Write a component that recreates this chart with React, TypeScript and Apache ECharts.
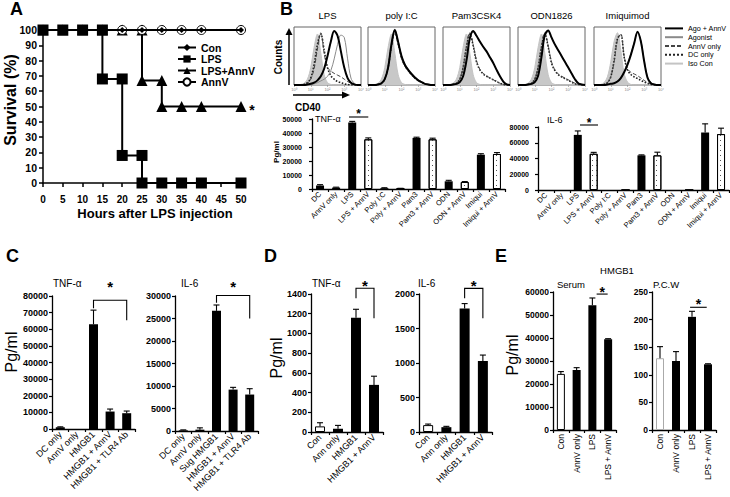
import React, { useEffect, useRef } from 'react';
import * as echarts from 'echarts';

const FONT = 'Liberation Sans, Arial, sans-serif';

// ---------- Panel A: survival ----------
const hourTicks = [0, 5, 10, 15, 20, 25, 30, 35, 40, 45, 50];
const survCon = [[0, 100], [5, 100], [10, 100], [15, 100], [20, 100], [25, 100], [30, 100], [35, 100], [40, 100], [50, 100]];
const survLPS = [[0, 100], [5, 100], [10, 100], [15, 100], [15, 68], [20, 68], [20, 18], [25, 18], [25, 0], [30, 0], [35, 0], [40, 0], [50, 0]];
const survLPSAnnV = [[0, 100], [5, 100], [10, 100], [15, 100], [20, 100], [25, 100], [25, 67], [30, 67], [30, 50], [35, 50], [40, 50], [50, 50]];
const survAnnV = [[0, 100], [5, 100], [10, 100], [15, 100], [20, 100], [25, 100], [30, 100], [35, 100], [40, 100], [50, 100]];

// ---------- Panel B: CD40 histograms (log decades 0..4) ----------
const histX = [0, 0.2, 0.4, 0.6, 0.8, 1.0, 1.2, 1.4, 1.6, 1.8, 2.0, 2.2, 2.4, 2.6, 2.8, 3.0, 3.2, 3.4, 3.6, 3.8, 4.0];
const histTitles = ['LPS', 'poly I:C', 'Pam3CSK4', 'ODN1826', 'Imiquimod'];
const histIso = [
  [0, 0, 1, 3, 10, 30, 65, 88, 55, 18, 4, 1, 0, 0, 0, 0, 0, 0, 0, 0, 0],
  [0, 0, 1, 3, 10, 30, 65, 88, 55, 18, 4, 1, 0, 0, 0, 0, 0, 0, 0, 0, 0],
  [0, 0, 1, 3, 10, 30, 65, 88, 55, 18, 4, 1, 0, 0, 0, 0, 0, 0, 0, 0, 0],
  [0, 0, 1, 3, 10, 30, 65, 88, 55, 18, 4, 1, 0, 0, 0, 0, 0, 0, 0, 0, 0],
  [0, 0, 1, 4, 14, 40, 75, 90, 60, 20, 5, 1, 0, 0, 0, 0, 0, 0, 0, 0, 0],
];
const histDC = [
  [0, 0, 0, 1, 4, 12, 35, 70, 88, 60, 30, 16, 10, 6, 4, 2, 1, 0, 0, 0, 0],
  [0, 0, 0, 1, 3, 10, 30, 68, 92, 72, 48, 34, 25, 18, 12, 8, 5, 2, 1, 0, 0],
  [0, 0, 0, 1, 3, 10, 30, 65, 88, 68, 40, 26, 19, 15, 12, 9, 6, 3, 1, 0, 0],
  [0, 0, 0, 1, 3, 10, 30, 65, 88, 66, 38, 25, 18, 14, 11, 8, 5, 2, 1, 0, 0],
  [0, 0, 0, 1, 4, 14, 42, 80, 86, 48, 26, 18, 14, 11, 8, 5, 3, 1, 0, 0, 0],
];
const histAnnV = [
  [0, 0, 0, 1, 3, 10, 28, 62, 90, 55, 30, 24, 20, 17, 14, 10, 6, 3, 1, 0, 0],
  [0, 0, 0, 1, 3, 10, 30, 66, 90, 70, 45, 32, 24, 17, 11, 7, 4, 2, 0, 0, 0],
  [0, 0, 0, 1, 3, 10, 30, 66, 90, 70, 42, 27, 20, 16, 12, 9, 6, 3, 1, 0, 0],
  [0, 0, 0, 1, 3, 10, 30, 66, 90, 68, 40, 26, 19, 15, 12, 9, 6, 3, 1, 0, 0],
  [0, 0, 0, 1, 4, 14, 40, 78, 88, 50, 28, 22, 19, 16, 12, 8, 4, 2, 0, 0, 0],
];
const histAgo = [
  [0, 0, 0, 0, 0, 1, 2, 4, 7, 10, 15, 25, 45, 70, 86, 82, 45, 12, 3, 0, 0],
  [0, 0, 0, 1, 3, 10, 32, 72, 96, 76, 50, 36, 27, 20, 14, 9, 5, 2, 1, 0, 0],
  [0, 0, 0, 1, 2, 5, 16, 45, 82, 91, 84, 75, 66, 58, 48, 38, 26, 15, 6, 1, 0],
  [0, 0, 0, 1, 2, 5, 16, 48, 85, 92, 81, 70, 60, 50, 40, 30, 20, 10, 3, 1, 0],
  [0, 0, 0, 0, 1, 2, 3, 6, 12, 22, 36, 54, 74, 90, 76, 42, 14, 4, 1, 0, 0],
];
const histAgoAnnV = [
  [0, 0, 0, 0, 1, 2, 4, 8, 15, 28, 50, 75, 93, 85, 58, 30, 12, 4, 1, 0, 0],
  [0, 0, 0, 1, 3, 10, 30, 70, 95, 74, 50, 35, 26, 19, 13, 8, 5, 2, 1, 0, 0],
  [0, 0, 0, 1, 2, 5, 15, 42, 80, 93, 85, 75, 66, 58, 48, 38, 26, 15, 6, 1, 0],
  [0, 0, 0, 1, 2, 5, 16, 48, 86, 94, 82, 70, 60, 50, 40, 30, 20, 10, 3, 1, 0],
  [0, 0, 0, 0, 1, 2, 3, 6, 12, 22, 35, 52, 72, 92, 75, 40, 12, 3, 1, 0, 0],
];
const histDecadeLabels = ['10⁰', '10¹', '10²', '10³', '10⁴'];

// ---------- Panel B: cytokines ----------
const bCats = ['DC', 'AnnV only', 'LPS', 'LPS + AnnV', 'Poly I:C', 'Poly + AnnV', 'Pam3', 'Pam3 + AnnV', 'ODN', 'ODN + AnnV', 'Imiqui', 'Imiqui + AnnV'];
const bTnf = [2500, 1000, 47500, 35500, 600, 300, 36500, 35500, 5500, 5000, 24500, 25000];
const bTnfErr = [600, 300, 800, 1000, 300, 200, 500, 800, 700, 300, 700, 1000];
const bIl6 = [0, 0, 70000, 46000, 0, 0, 44000, 44000, 0, 0, 73000, 71000];
const bIl6Err = [0, 0, 5000, 1800, 0, 0, 600, 4000, 0, 0, 11000, 7500];

// ---------- Panel C ----------
const cCatsTnf = ['DC only', 'AnnV only', 'HMGB1', 'HMGB1 + AnnV', 'HMGB1 + TLR4 Ab'];
const cTnf = [1000, 0, 63000, 10500, 9500];
const cTnfErr = [300, 0, 8500, 1500, 1300];
const cCatsIl6 = ['DC only', 'AnnV only', 'Sug HMGB1', 'HMGB1 + AnnV', 'HMGB1 + TLR4 Ab'];
const cIl6 = [150, 300, 26700, 9200, 8100];
const cIl6Err = [100, 400, 1300, 500, 1300];

// ---------- Panel D ----------
const dCats = ['Con', 'Ann only', 'HMGB1', 'HMGB1 + AnnV'];
const dTnf = [57, 33, 1158, 478];
const dTnfErr = [37, 34, 87, 88];
const dIl6 = [100, 70, 1789, 1029];
const dIl6Err = [15, 12, 72, 86];

// ---------- Panel E ----------
const eCats = ['Con', 'AnnV only', 'LPS', 'LPS + AnnV'];
const eSerum = [24400, 26100, 54200, 39500];
const eSerumErr = [1000, 1000, 3200, 200];
const ePcw = [130, 125, 205, 119];
const ePcwErr = [21, 17, 10, 1];

// significance: [leftCat, rightCat, top, leftEnd, rightEnd, leftOffset, rightOffset, starCenter]
const sigB1 = [[2, 3, 51430, 51430, 51430, -0.2, 0, 55700]];
const sigB2 = [[2, 3, 82540, 82540, 82540, 0.14, 0.27, 88900]];
const sigC1 = [[2, 4, 77400, 72600, 65400, 0, 0, 87600]];
const sigC2 = [[2, 4, 30100, 28500, 25000, 0, 0, 32800]];
const sigD1 = [[2, 3, 1458, 1357, 1155, 0, 0, 1519]];
const sigD2 = [[2, 3, 2082, 1938, 1650, 0, 0, 2169]];
const sigE1 = [[2, 3, 59100, 59100, 59100, 0.27, -0.03, 61440]];
const sigE2 = [[2, 3, 222.3, 222.3, 222.3, -0.12, -0.08, 234]];

const errRender = (params: any, api: any) => {
  const x = api.value(0), v = api.value(1), e = api.value(2);
  if (!e) return { type: 'group', children: [] };
  const p0 = api.coord([x, v]);
  const p1 = api.coord([x, v + e]);
  const st = { stroke: '#000', lineWidth: 1.1 };
  return {
    type: 'group',
    children: [
      { type: 'line', shape: { x1: p0[0], y1: p0[1], x2: p1[0], y2: p1[1] }, style: st },
      { type: 'line', shape: { x1: p1[0] - 3, y1: p1[1], x2: p1[0] + 3, y2: p1[1] }, style: st },
    ],
  };
};

const makeSigRender = (fontSize: number) => (params: any, api: any) => {
  const bw = api.size([1, 0])[0];
  const l = api.coord([api.value(0), api.value(2)]);
  const r = api.coord([api.value(1), api.value(2)]);
  const xl = l[0] + api.value(5) * bw;
  const xr = r[0] + api.value(6) * bw;
  const yt = l[1];
  const yl = api.coord([api.value(0), api.value(3)])[1];
  const yr = api.coord([api.value(1), api.value(4)])[1];
  const ys = api.coord([api.value(0), api.value(7)])[1];
  return {
    type: 'group',
    children: [
      { type: 'polyline', shape: { points: [[xl, yl], [xl, yt], [xr, yt], [xr, yr]] }, style: { stroke: '#000', lineWidth: 1.1, fill: null } },
      { type: 'text', x: (xl + xr) / 2, y: ys + fontSize * 0.22, style: { text: '*', fontSize, fontWeight: 'bold', fontFamily: FONT, fill: '#000', align: 'center', verticalAlign: 'middle' } },
    ],
  };
};

const plain = (v: number) => String(v);

function buildOption() {
  const grid: any[] = [];
  const xAxis: any[] = [];
  const yAxis: any[] = [];
  const series: any[] = [];
  const graphic: any[] = [];

  // ---- Panel A ----
  grid.push({ left: 43, top: 30, width: 198, height: 153 });
  xAxis.push({
    type: 'value', gridIndex: 0, min: 0, max: 50, interval: 5,
    axisLine: { show: true, lineStyle: { color: '#000', width: 1.5 } },
    axisTick: { show: true, length: 4, lineStyle: { color: '#000', width: 1.5 } },
    axisLabel: { color: '#000', fontSize: 10, fontWeight: 'bold', fontFamily: FONT, margin: 11, formatter: (v: number) => (hourTicks.includes(v) ? String(v) : '') },
    splitLine: { show: false },
  });
  yAxis.push({
    type: 'value', gridIndex: 0, min: 0, max: 100, interval: 10,
    axisLine: { show: true, lineStyle: { color: '#000', width: 1.5 } },
    axisTick: { show: true, length: 4, lineStyle: { color: '#000', width: 1.5 } },
    axisLabel: { color: '#000', fontSize: 10.5, fontWeight: 'bold', fontFamily: FONT, margin: 6, formatter: plain },
    splitLine: { show: false },
  });
  const aLine = { color: '#000', width: 2 };
  series.push(
    { name: 'LPS+AnnV', type: 'line', xAxisIndex: 0, yAxisIndex: 0, data: survLPSAnnV, symbol: 'triangle', symbolSize: 11, itemStyle: { color: '#000' }, lineStyle: aLine, z: 2 },
    { name: 'AnnV', type: 'line', xAxisIndex: 0, yAxisIndex: 0, data: survAnnV, symbol: 'circle', symbolSize: 9, itemStyle: { color: '#fff', borderColor: '#000', borderWidth: 1 }, lineStyle: aLine, z: 3 },
    { name: 'Con', type: 'line', xAxisIndex: 0, yAxisIndex: 0, data: survCon, symbol: 'diamond', symbolSize: 6, itemStyle: { color: '#000' }, lineStyle: aLine, z: 4 },
    { name: 'LPS', type: 'line', xAxisIndex: 0, yAxisIndex: 0, data: survLPS, symbol: 'rect', symbolSize: 11, itemStyle: { color: '#000' }, lineStyle: aLine, z: 5 },
  );

  // ---- Panel B histograms ----
  const hLeft = [294, 368, 443, 518, 594];
  const histStyles = [
    { name: 'Iso Con', data: histIso, line: { color: '#c4c4c4', width: 1 }, area: true },
    { name: 'DC only', data: histDC, line: { color: '#222', width: 1.6, type: 'dotted' } },
    { name: 'AnnV only', data: histAnnV, line: { color: '#444', width: 1, type: [4, 2] } },
    { name: 'Agonist', data: histAgo, line: { color: '#8a8a8a', width: 1 } },
    { name: 'Ago + AnnV', data: histAgoAnnV, line: { color: '#000', width: 2 } },
  ];
  hLeft.forEach((left, p) => {
    const gi = grid.length;
    grid.push({ left, top: 27, width: 67, height: 58, show: true, borderColor: '#666', borderWidth: 1, backgroundColor: 'transparent' });
    xAxis.push({
      type: 'value', gridIndex: gi, min: 0, max: 4, interval: 1,
      axisLine: { show: false },
      axisTick: { show: true, length: 2, lineStyle: { color: '#888', width: 0.6 } },
      axisLabel: { fontSize: 4, color: '#888', margin: 2, fontFamily: FONT, formatter: (v: number) => histDecadeLabels[v] || '' },
      splitLine: { show: false },
    });
    yAxis.push({ type: 'value', gridIndex: gi, min: 0, max: 100, show: false, splitLine: { show: false } });
    histStyles.forEach((h) => {
      series.push({
        name: h.name, type: 'line', xAxisIndex: gi, yAxisIndex: gi, smooth: 0.35, symbol: 'none',
        data: histX.map((x, i) => [x, h.data[p][i]]),
        lineStyle: h.line,
        itemStyle: { color: h.line.color },
        areaStyle: h.area ? { color: '#c8c8c8', opacity: 1 } : undefined,
      });
    });
    graphic.push({ type: 'text', x: left + 33.5, y: 15, style: { text: histTitles[p], fontSize: 9.5, fontFamily: FONT, fill: '#000', align: 'center', verticalAlign: 'middle' } });
  });

  // ---- bar panels ----
  const dotted = { symbol: 'rect', symbolSize: 1, dashArrayX: [1, 3], dashArrayY: [1, 4], color: '#555', backgroundColor: '#fff' };
  const addBar = (cfg: any) => {
    const gi = grid.length;
    grid.push(cfg.grid);
    xAxis.push({
      type: 'category', gridIndex: gi, data: cfg.cats,
      axisLine: { show: true, lineStyle: { color: '#000', width: 1.3 } },
      axisTick: { show: true, length: 3, lineStyle: { color: '#000', width: 1.2 } },
      axisLabel: { interval: 0, rotate: cfg.rotate, fontSize: cfg.xSize, color: '#000', fontFamily: FONT, margin: 4 },
      splitLine: { show: false },
    });
    yAxis.push({
      type: 'value', gridIndex: gi, min: 0, max: cfg.max, interval: cfg.interval,
      axisLine: { show: true, lineStyle: { color: '#000', width: 1.3 } },
      axisTick: { show: true, length: 3, lineStyle: { color: '#000', width: 1.2 } },
      axisLabel: { fontSize: cfg.ySize, fontWeight: 'bold', color: '#000', fontFamily: FONT, margin: cfg.yMargin, formatter: plain },
      splitLine: { show: false },
    });
    series.push({
      name: 'bars' + gi, type: 'bar', xAxisIndex: gi, yAxisIndex: gi, barWidth: cfg.barWidth,
      data: cfg.vals.map((v: number, i: number) => {
        const white = cfg.isWhite(cfg.cats[i]);
        return {
          value: v,
          itemStyle: white
            ? { color: '#fff', borderColor: cfg.whiteBorder || '#000', borderWidth: 1, decal: cfg.dots ? dotted : undefined }
            : { color: '#000' },
        };
      }),
    });
    series.push({
      name: 'err' + gi, type: 'custom', xAxisIndex: gi, yAxisIndex: gi, renderItem: errRender, clip: false, silent: true, z: 4,
      encode: { x: 0, y: 1 },
      data: cfg.vals.map((v: number, i: number) => [i, v, cfg.errs[i]]),
    });
    if (cfg.sig) {
      series.push({
        name: 'sig' + gi, type: 'custom', xAxisIndex: gi, yAxisIndex: gi, renderItem: makeSigRender(cfg.starSize), clip: false, silent: true, z: 5,
        encode: { x: [0, 1], y: [2, 3, 4, 7] },
        data: cfg.sig,
      });
    }
  };
  const plusAnn = (c: string) => c.indexOf('+ AnnV') >= 0;
  const isCon = (c: string) => c === 'Con';
  const never = () => false;

  addBar({ grid: { left: 312, top: 119, width: 193, height: 70 }, cats: bCats, vals: bTnf, errs: bTnfErr, max: 50000, interval: 10000, rotate: 45, xSize: 7.5, ySize: 7, yMargin: 10, barWidth: 8, isWhite: plusAnn, dots: true, sig: sigB1, starSize: 12 });
  addBar({ grid: { left: 538, top: 127, width: 191, height: 63 }, cats: bCats, vals: bIl6, errs: bIl6Err, max: 80000, interval: 20000, rotate: 45, xSize: 7.5, ySize: 7, yMargin: 9, barWidth: 8, isWhite: plusAnn, dots: true, sig: sigB2, starSize: 12 });
  addBar({ grid: { left: 52, top: 296, width: 83, height: 133 }, cats: cCatsTnf, vals: cTnf, errs: cTnfErr, max: 80000, interval: 10000, rotate: 45, xSize: 9, ySize: 9, yMargin: 4, barWidth: 9, isWhite: never, sig: sigC1, starSize: 15 });
  addBar({ grid: { left: 175, top: 296, width: 83, height: 135 }, cats: cCatsIl6, vals: cIl6, errs: cIl6Err, max: 30000, interval: 5000, rotate: 45, xSize: 9, ySize: 9, yMargin: 4, barWidth: 9, isWhite: never, sig: sigC2, starSize: 15 });
  addBar({ grid: { left: 311, top: 294, width: 72, height: 138 }, cats: dCats, vals: dTnf, errs: dTnfErr, max: 1400, interval: 200, rotate: 45, xSize: 9, ySize: 9, yMargin: 4, barWidth: 10, isWhite: isCon, sig: sigD1, starSize: 15 });
  addBar({ grid: { left: 419, top: 294, width: 73, height: 138 }, cats: dCats, vals: dIl6, errs: dIl6Err, max: 2000, interval: 500, rotate: 45, xSize: 9, ySize: 9, yMargin: 4, barWidth: 10, isWhite: isCon, sig: sigD2, starSize: 15 });
  addBar({ grid: { left: 553, top: 292, width: 63, height: 138 }, cats: eCats, vals: eSerum, errs: eSerumErr, max: 60000, interval: 10000, rotate: 90, xSize: 8.5, ySize: 8.5, yMargin: 4, barWidth: 8, isWhite: isCon, sig: sigE1, starSize: 14 });
  addBar({ grid: { left: 652, top: 292, width: 64, height: 138 }, cats: eCats, vals: ePcw, errs: ePcwErr, max: 250, interval: 50, rotate: 90, xSize: 8.5, ySize: 8.5, yMargin: 4, barWidth: 8, isWhite: isCon, whiteBorder: '#aaa', sig: sigE2, starSize: 14 });

  // ---- texts ----
  const txt = (text: string, x: number, y: number, fontSize: number, opts: any = {}) => ({
    type: 'text', x, y, rotation: opts.rot || 0,
    style: { text, fontSize, fontFamily: FONT, fontWeight: opts.bold ? 'bold' : 'normal', fill: '#000', align: opts.align || 'left', verticalAlign: 'middle' },
  });
  graphic.push(
    txt('A', 10, 9, 18, { bold: true }),
    txt('B', 280, 9, 18, { bold: true }),
    txt('C', 6, 256, 18, { bold: true }),
    txt('D', 264, 256, 18, { bold: true }),
    txt('E', 495, 256, 18, { bold: true }),
    txt('Survival (%)', 10, 100, 16, { bold: true, rot: Math.PI / 2, align: 'center' }),
    txt('Hours after LPS injection', 155, 213, 13, { bold: true, align: 'center' }),
    txt('*', 252, 110, 14, { bold: true, align: 'center' }),
    txt('Counts', 278, 57, 10, { bold: true, rot: Math.PI / 2, align: 'center' }),
    txt('CD40', 295, 107, 10, { bold: true }),
    txt('Pg/ml', 276, 152, 8, { bold: true, rot: Math.PI / 2, align: 'center' }),
    txt('TNF-α', 315, 119, 9, {}),
    txt('IL-6', 547, 120, 9, {}),
    txt('TNF-α', 53, 283, 10, {}),
    txt('IL-6', 181, 283, 10, {}),
    txt('TNF-α', 312, 283, 10, {}),
    txt('IL-6', 418, 283, 10, {}),
    txt('Pg/ml', 11, 352, 16, { rot: Math.PI / 2, align: 'center' }),
    txt('Pg/ml', 276, 358, 16, { rot: Math.PI / 2, align: 'center' }),
    txt('Pg/ml', 512, 355, 16, { rot: Math.PI / 2, align: 'center' }),
    txt('HMGB1', 617, 270, 9.5, { align: 'center' }),
    txt('Serum', 557, 284, 9.5, {}),
    txt('P.C.W', 653, 284, 9.5, {}),
  );
  // axis arrows for histograms
  graphic.push(
    { type: 'line', shape: { x1: 289, y1: 85, x2: 289, y2: 34 }, style: { stroke: '#000', lineWidth: 1.5 } },
    { type: 'polygon', shape: { points: [[285.5, 35], [292.5, 35], [289, 28]] }, style: { fill: '#000' } },
    { type: 'line', shape: { x1: 293, y1: 95, x2: 343, y2: 95 }, style: { stroke: '#000', lineWidth: 1.5 } },
    { type: 'polygon', shape: { points: [[342, 91.5], [342, 98.5], [350, 95]] }, style: { fill: '#000' } },
  );

  return {
    animation: false,
    backgroundColor: '#fff',
    textStyle: { fontFamily: FONT },
    grid, xAxis, yAxis, series, graphic,
    legend: [
      {
        data: ['Con', 'LPS', 'LPS+AnnV', 'AnnV'], orient: 'vertical', left: 172, top: 37,
        itemWidth: 18, itemHeight: 9, itemGap: 0.5, selectedMode: false,
        textStyle: { fontSize: 10.5, fontWeight: 'bold', color: '#000', fontFamily: FONT, lineHeight: 10 },
      },
      {
        data: ['Ago + AnnV', 'Agonist', 'AnnV only', 'DC only', 'Iso Con'], orient: 'vertical', left: 664, top: 24,
        itemWidth: 18, itemHeight: 7, itemGap: 0, selectedMode: false, padding: 0,
        itemStyle: { opacity: 0 },
        textStyle: { fontSize: 7.2, color: '#000', fontFamily: FONT, lineHeight: 8.8 },
      },
    ],
  };
}

export default function App() {
  const ref = useRef<HTMLDivElement>(null);
  useEffect(() => {
    if (!ref.current) return;
    const chart = echarts.init(ref.current, undefined, { renderer: 'svg' });
    chart.setOption(buildOption() as any);
    return () => chart.dispose();
  }, []);
  return <div ref={ref} style={{ position: 'absolute', left: 0, top: 0, width: 730, height: 497, background: '#fff' }} />;
}
